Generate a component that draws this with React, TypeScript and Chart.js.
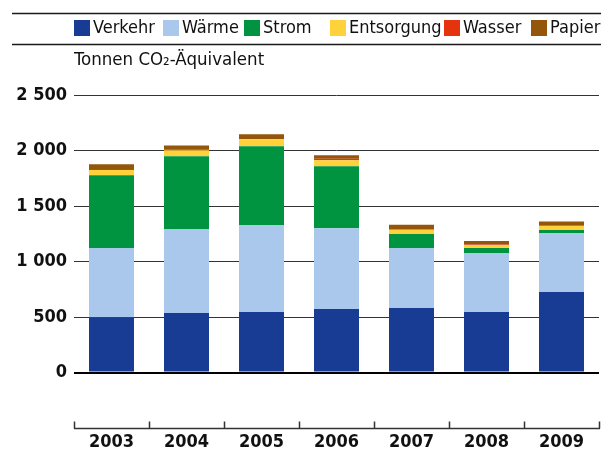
import React, { useEffect, useRef } from "react";
import { Chart, registerables } from "chart.js";

Chart.register(...registerables);

const YEARS = ["2003", "2004", "2005", "2006", "2007", "2008", "2009"];
const VERKEHR = [498, 537, 546, 573, 582, 546, 726];
const WAERME = [623, 755, 782, 726, 540, 530, 531];
const STROM = [656, 656, 710, 560, 126, 45, 27];
const ENTSORGUNG = [48, 54, 63, 54, 39, 25, 36];
const WASSER = [9, 5, 3, 12, 5, 8, 5];
const PAPIER = [42, 39, 42, 33, 38, 30, 36];
const Y_TICKS = [0, 500, 1000, 1500, 2000, 2500];
const UNIT_LABEL = "Tonnen CO\u2082-\u00C4quivalent";

const SERIES_NAMES = ["Verkehr", "W\u00E4rme", "Strom", "Entsorgung", "Wasser", "Papier"];
const COLORS = ["#183C94", "#AAC8EB", "#009440", "#FFD13A", "#E5330E", "#93560A"];

const FONT = "'DejaVu Sans Condensed', 'DejaVu Sans', sans-serif";
const LEGEND_X = [74, 163, 244, 330, 444, 531];

const fmt = (v: number) =>
  v >= 1000 ? `${Math.floor(v / 1000)} ${String(v % 1000).padStart(3, "0")}` : String(v);

const decor = {
  id: "decor",
  afterDraw(chart: any) {
    const ctx = chart.ctx as CanvasRenderingContext2D;
    ctx.save();
    ctx.strokeStyle = "#1a1a1a";
    ctx.lineWidth = 1.5;
    ctx.beginPath();
    ctx.moveTo(12, 13.5);
    ctx.lineTo(601, 13.5);
    ctx.moveTo(12, 44.5);
    ctx.lineTo(601, 44.5);
    ctx.stroke();

    ctx.font = `18px ${FONT}`;
    ctx.textBaseline = "middle";
    ctx.textAlign = "left";
    chart.data.datasets.forEach((ds: any, i: number) => {
      ctx.fillStyle = ds.backgroundColor;
      ctx.fillRect(LEGEND_X[i], 20, 16, 16);
      ctx.fillStyle = "#111";
      ctx.fillText(ds.label, LEGEND_X[i] + 19, 28.5);
    });

    ctx.font = `18.5px ${FONT}`;
    ctx.fillStyle = "#111";
    ctx.fillText(UNIT_LABEL, 74, 60);

    const xs = chart.scales.x;
    const area = chart.chartArea;
    const step = xs.getPixelForValue(1) - xs.getPixelForValue(0);
    const yb = Math.round(area.bottom) + 0.5;
    ctx.strokeStyle = "#333";
    ctx.lineWidth = 1.5;
    ctx.beginPath();
    ctx.moveTo(area.left, yb);
    ctx.lineTo(area.right + 1, yb);
    for (let i = 0; i <= YEARS.length; i++) {
      const px = Math.round(xs.getPixelForValue(0) - step / 2 + i * step) + 0.5;
      ctx.moveTo(px, yb);
      ctx.lineTo(px, yb - 7);
    }
    ctx.stroke();
    ctx.restore();
  },
};

export default function App() {
  const ref = useRef<HTMLCanvasElement | null>(null);
  useEffect(() => {
    if (!ref.current) return;
    const seriesValues = [VERKEHR, WAERME, STROM, ENTSORGUNG, WASSER, PAPIER];
    const chart = new Chart(ref.current, {
      type: "bar",
      data: {
        labels: YEARS,
        datasets: seriesValues.map((vals, i) => ({
          label: SERIES_NAMES[i],
          data: vals,
          backgroundColor: COLORS[i],
          borderWidth: 0,
          barPercentage: 0.6,
          categoryPercentage: 1,
        })),
      },
      options: {
        responsive: false,
        animation: false,
        layout: { padding: { top: 95, right: 2, bottom: 0, left: 0 } },
        plugins: {
          legend: { display: false },
          title: { display: false },
          tooltip: { enabled: false },
        },
        scales: {
          x: {
            stacked: true,
            offset: true,
            grid: { display: false },
            border: { display: false },
            ticks: {
              font: { family: FONT, size: 18, weight: "bold" },
              color: "#111",
              padding: -4,
              maxRotation: 0,
              autoSkip: false,
            },
            afterFit: (s: any) => {
              s.height = 26;
            },
          },
          y: {
            stacked: true,
            min: -500,
            max: 2500,
            afterBuildTicks: (s: any) => {
              s.ticks = Y_TICKS.map((v) => ({ value: v }));
            },
            ticks: {
              callback: (v: any) => fmt(Number(v)),
              font: { family: FONT, size: 18, weight: "bold" },
              color: "#111",
              padding: 7,
            },
            grid: {
              drawTicks: false,
              color: (c: any) => (c.tick && c.tick.value === 0 ? "#000" : "#333"),
              lineWidth: (c: any) => (c.tick && c.tick.value === 0 ? 2 : 1),
            },
            border: { display: false },
            afterFit: (s: any) => {
              s.width = 74;
            },
          },
        },
      },
      plugins: [decor],
    });
    return () => chart.destroy();
  }, []);
  return (
    <div style={{ position: "absolute", left: 0, top: 0, width: 601, height: 454, background: "#fff" }}>
      <canvas ref={ref} width={601} height={454} />
    </div>
  );
}
